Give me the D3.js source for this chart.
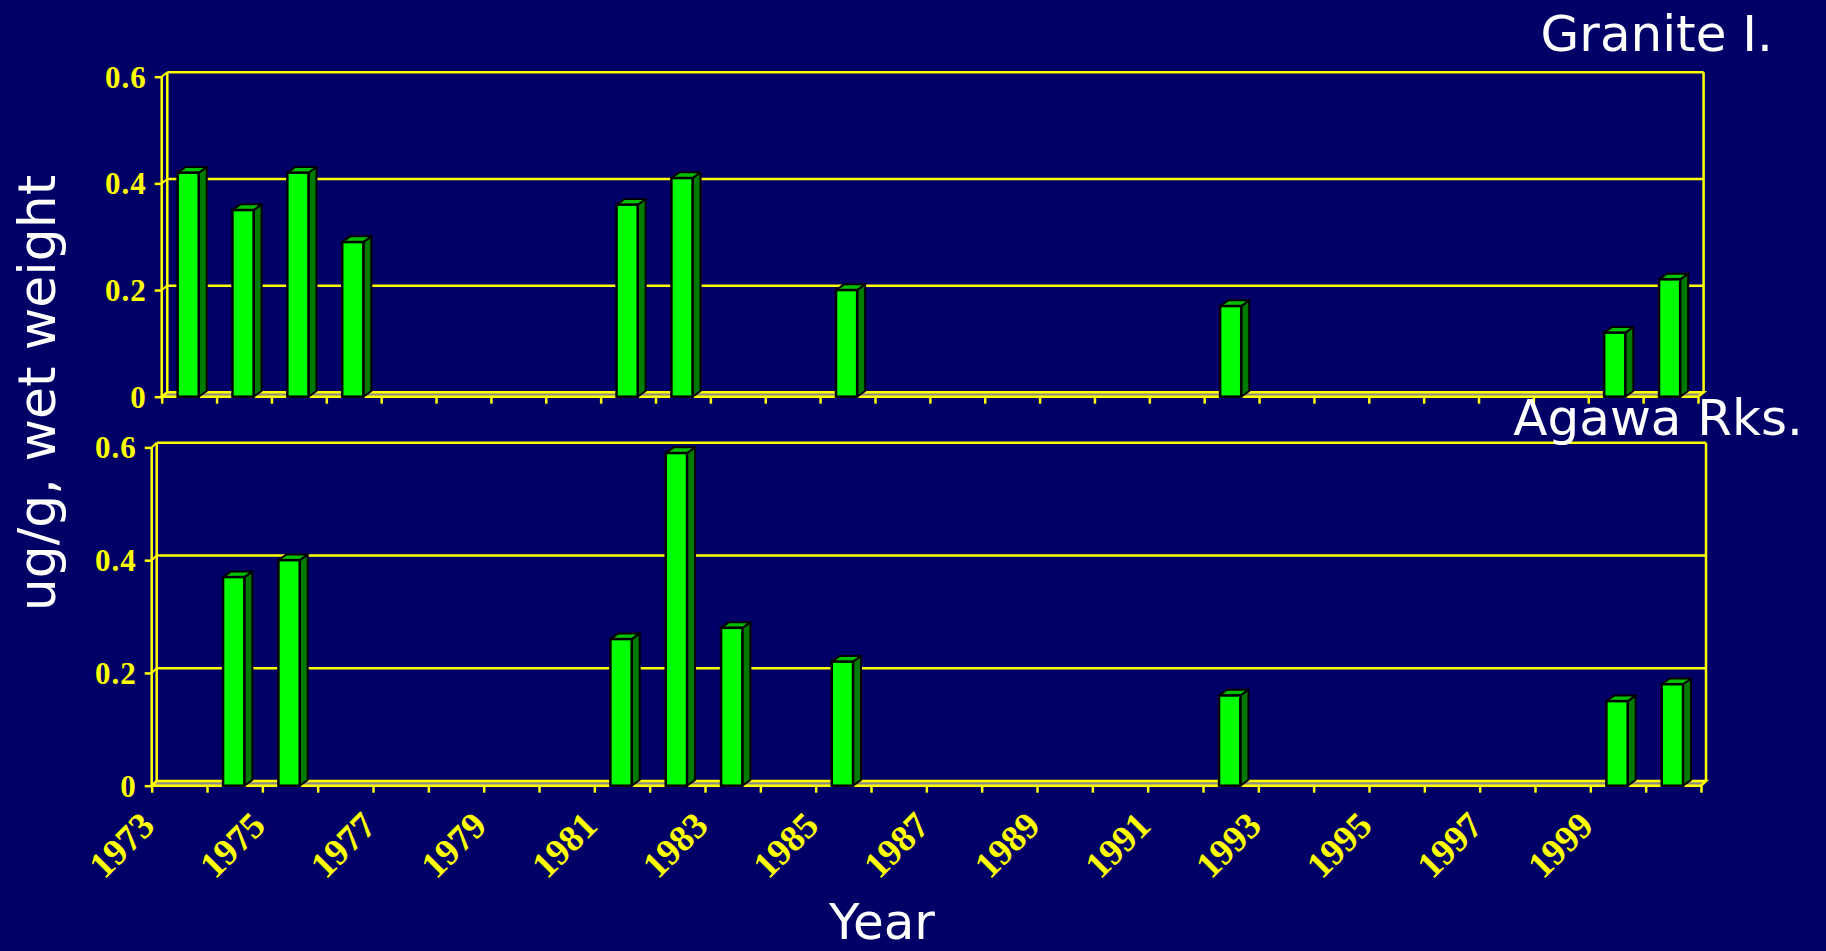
<!DOCTYPE html>
<html>
<head>
<meta charset="utf-8">
<script src="https://cdn.jsdelivr.net/npm/d3@7"></script>
<style>
  html, body { margin: 0; padding: 0; background: #000066; }
  svg { display: block; }
</style>
</head>
<body>
<svg id="chart" width="1826" height="951"></svg>
<script>
// ---------------- DATA ----------------
const years = [1973, 1974, 1975, 1976, 1977, 1978, 1979, 1980, 1981, 1982,
               1983, 1984, 1985, 1986, 1987, 1988, 1989, 1990, 1991, 1992,
               1993, 1994, 1995, 1996, 1997, 1998, 1999, 2000];
const graniteValues = [0.42, 0.35, 0.42, 0.29, null, null, null, null, 0.36, 0.41,
                       null, null, 0.20, null, null, null, null, null, null, 0.17,
                       null, null, null, null, null, null, 0.12, 0.22];
const agawaValues = [null, 0.37, 0.40, null, null, null, null, null, 0.26, 0.59,
                     0.28, null, 0.22, null, null, null, null, null, null, 0.16,
                     null, null, null, null, null, null, 0.15, 0.18];
const yTicks = [0, 0.2, 0.4, 0.6];
const yTickLabels = ["0", "0.2", "0.4", "0.6"];
const xLabelYears = [1973, 1975, 1977, 1979, 1981, 1983, 1985, 1987, 1989, 1991, 1993, 1995, 1997, 1999];
const xTickLabels = ["1973", "1975", "1977", "1979", "1981", "1983", "1985", "1987", "1989", "1991", "1993", "1995", "1997", "1999"];
const panelTitles = ["Granite I.", "Agawa Rks."];
const yAxisTitle = "ug/g, wet weight";
const xAxisTitle = "Year";

// ---------------- LAYOUT ----------------
const W = 1826, H = 951;
const BG = "#000066", YEL = "#ffff00";
const svg = d3.select("#chart");
svg.append("rect").attr("width", W).attr("height", H).attr("fill", BG);

const panels = [
  { values: graniteValues, title: panelTitles[0], frontLeft: 161.7, frontRight: 1698, floorFront: 396.7,
    dx: 5.6, dy: -4.4, topBack: 72.3, titleX: 1773, titleY: 50.7, showXLabels: false },
  { values: agawaValues, title: panelTitles[1], frontLeft: 151.7, frontRight: 1701, floorFront: 785.7,
    dx: 5.0, dy: -4.7, topBack: 442.7, titleX: 1803, titleY: 435, showXLabels: true }
];

const barDX = 8, barDY = -5.7;
const yearEdges = years.concat([years[years.length - 1] + 1]);

panels.forEach(p => {
  const g = svg.append("g");
  const x = d3.scaleLinear().domain([years[0], years[years.length - 1] + 1]).range([p.frontLeft, p.frontRight]);
  const yBack = d3.scaleLinear().domain([0, 0.6]).range([p.floorFront + p.dy, p.topBack]);
  const yFront = d3.scaleLinear().domain([0, 0.6]).range([p.floorFront, p.topBack - p.dy]);
  const xb0 = p.frontLeft + p.dx, xb1 = p.frontRight + p.dx;

  // floor
  g.append("polygon")
    .attr("points", [[p.frontLeft, yFront(0)], [p.frontRight, yFront(0)], [xb1, yBack(0)], [xb0, yBack(0)]].map(d => d.join(",")).join(" "))
    .attr("fill", "#8a8a8a").attr("stroke", YEL).attr("stroke-width", 2.5);

  // back wall gridlines (including top frame)
  g.selectAll("line.grid").data(yTicks.filter(v => v > 0)).join("line")
    .attr("x1", xb0).attr("x2", xb1)
    .attr("y1", d => yBack(d)).attr("y2", d => yBack(d))
    .attr("stroke", YEL).attr("stroke-width", 2.5);
  // side wall gridline segments
  g.selectAll("line.sgrid").data(yTicks).join("line")
    .attr("x1", p.frontLeft).attr("x2", xb0)
    .attr("y1", d => yFront(d)).attr("y2", d => yBack(d))
    .attr("stroke", YEL).attr("stroke-width", 2);

  // left wall edges
  g.append("line").attr("x1", p.frontLeft).attr("x2", p.frontLeft)
    .attr("y1", yFront(0)).attr("y2", yFront(0.6)).attr("stroke", YEL).attr("stroke-width", 2.5);
  g.append("line").attr("x1", xb0).attr("x2", xb0)
    .attr("y1", yBack(0)).attr("y2", yBack(0.6)).attr("stroke", YEL).attr("stroke-width", 2.5);
  // right wall edge
  g.append("line").attr("x1", xb1).attr("x2", xb1)
    .attr("y1", yBack(0)).attr("y2", yBack(0.6)).attr("stroke", YEL).attr("stroke-width", 2.5);

  // bars
  const barData = years.map((yr, i) => ({ yr, v: p.values[i] })).filter(d => d.v !== null);
  const bars = g.selectAll("g.bar").data(barData).join("g").attr("class", "bar");
  bars.each(function (d) {
    const bw = x(d.yr + 1) - x(d.yr);
    const xl = x(d.yr) + 0.29 * bw;
    const w = 0.385 * bw;
    const yt = yFront(d.v), yb = yFront(0);
    const s = d3.select(this);
    const pts = a => a.map(q => q.join(",")).join(" ");
    s.append("polygon").attr("points", pts([[xl + w, yt], [xl + w + barDX, yt + barDY], [xl + w + barDX, yb + barDY], [xl + w, yb]]))
      .attr("fill", "#007a00").attr("stroke", "#000").attr("stroke-width", 2).attr("stroke-linejoin", "round");
    s.append("polygon").attr("points", pts([[xl, yt], [xl + w, yt], [xl + w + barDX, yt + barDY], [xl + barDX, yt + barDY]]))
      .attr("fill", "#00c000").attr("stroke", "#000").attr("stroke-width", 2).attr("stroke-linejoin", "round");
    s.append("rect").attr("x", xl).attr("y", yt).attr("width", w).attr("height", yb - yt)
      .attr("fill", "#00ff00").attr("stroke", "#000").attr("stroke-width", 2.5);
  });

  // y axis ticks & labels
  const yAxis = d3.axisLeft(yFront).tickValues(yTicks).tickSize(7).tickPadding(8)
    .tickFormat((d, i) => yTickLabels[i]);
  const ya = g.append("g").attr("transform", `translate(${p.frontLeft},0)`).call(yAxis);
  ya.select(".domain").remove();
  ya.selectAll(".tick line").attr("stroke", YEL).attr("stroke-width", 2.5);
  ya.selectAll(".tick text").attr("fill", YEL)
    .style("font-family", "'Liberation Serif', 'Times New Roman', serif")
    .style("font-weight", "bold").style("font-size", "31px").style("letter-spacing", "1px")
    .attr("dy", "0.34em");

  // x axis ticks
  const xAxis = d3.axisBottom(x).tickValues(yearEdges).tickSize(7).tickFormat("");
  const xa = g.append("g").attr("transform", `translate(0,${yFront(0)})`).call(xAxis);
  xa.select(".domain").remove();
  xa.selectAll(".tick line").attr("stroke", YEL).attr("stroke-width", 2.5);

  if (p.showXLabels) {
    g.selectAll("text.xl").data(xLabelYears).join("text")
      .attr("class", "xl")
      .attr("transform", d => `translate(${x(d) + 5},${yFront(0) + 42}) rotate(-45)`)
      .attr("text-anchor", "end")
      .attr("fill", YEL)
      .style("font-family", "'Liberation Serif', 'Times New Roman', serif")
      .style("font-weight", "bold").style("font-size", "37px")
      .text((d, i) => xTickLabels[i]);
  }
});

// titles (drawn last so they sit above the frames)
panels.forEach(p => {
  svg.append("text").attr("x", p.titleX).attr("y", p.titleY)
    .attr("text-anchor", "end").attr("fill", "#ffffff")
    .style("font-family", "'DejaVu Sans', Verdana, sans-serif").style("font-size", "50px")
    .text(p.title);
});

svg.append("text")
  .attr("transform", "translate(55,393) rotate(-90)")
  .attr("text-anchor", "middle").attr("fill", "#ffffff")
  .style("font-family", "'DejaVu Sans', Verdana, sans-serif").style("font-size", "52px")
  .text(yAxisTitle);

svg.append("text")
  .attr("x", 882).attr("y", 939)
  .attr("text-anchor", "middle").attr("fill", "#ffffff")
  .style("font-family", "'DejaVu Sans', Verdana, sans-serif").style("font-size", "50px")
  .text(xAxisTitle);
</script>
</body>
</html>
